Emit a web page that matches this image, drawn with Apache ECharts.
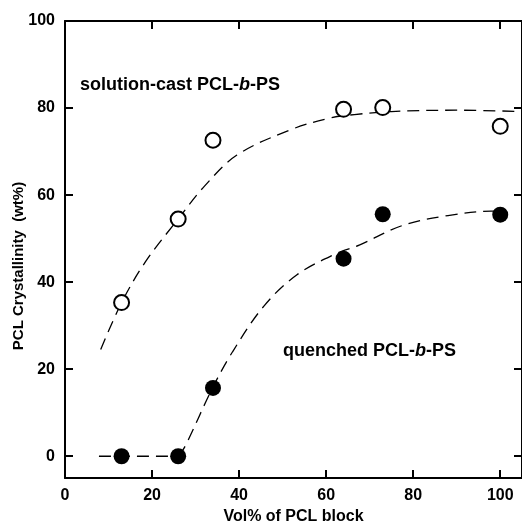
<!DOCTYPE html>
<html>
<head>
<meta charset="utf-8">
<script src="https://cdn.jsdelivr.net/npm/echarts@6/dist/echarts.min.js"></script>
<style>html,body{margin:0;padding:0;background:#fff}#c{width:522px;height:530px}</style>
</head>
<body>
<div id="c"></div>
<script>
// Tick labels
var xTicks = [0, 20, 40, 60, 80, 100];
var yTicks = [0, 20, 40, 60, 80, 100];
// Measured points: [Vol% of PCL block, PCL crystallinity wt%]
var solutionCastX = [13, 26, 34, 64, 73, 100];
var solutionCastY = [35.3, 54.5, 72.6, 79.7, 80.1, 75.8];
var quenchedX = [13, 26, 34, 64, 73, 100];
var quenchedY = [0, 0, 15.7, 45.4, 55.6, 55.5];
// Dashed guide curves
var solutionCurveX = [8.2, 13, 18.5, 26, 32, 39.5, 51.8, 60.8, 66.5, 75, 90, 105];
var solutionCurveY = [24.5, 35.3, 44.7, 54.5, 62, 69.2, 75, 77.7, 78.5, 79.2, 79.5, 79.2];
var quenchedFlatX = [7.8, 26];
var quenchedFlatY = [0, 0];
var quenchedRiseX = [26, 27.6, 33.8, 38.5, 45.7, 53.3, 62.4, 67.6, 77.5, 88, 97.9, 100];
var quenchedRiseY = [0, 2.3, 15.5, 24, 34.5, 41.7, 46.6, 48.5, 53, 55.3, 56.3, 56.3];

function pairs(xs, ys) { return xs.map(function (x, i) { return [x, ys[i]]; }); }

var FONT = '"Liberation Sans", Arial, Helvetica, sans-serif';
var chart = echarts.init(document.getElementById('c'), null, {renderer: 'canvas'});
var axisCommon = {
  type: 'value',
  splitLine: {show: false},
  axisLine: {show: true, onZero: false, lineStyle: {color: '#000', width: 2}},
  axisTick: {show: true, inside: true, length: 8, lineStyle: {color: '#000', width: 2}}
};
var dash = {color: '#000', width: 1.3, type: [12, 7]};
chart.setOption({
  animation: false,
  backgroundColor: '#fff',
  grid: {left: 65, top: 21, bottom: 47, right: -6, containLabel: false},
  xAxis: [
    Object.assign({}, axisCommon, {
      position: 'bottom', min: 0, max: 105,
      axisTick: Object.assign({}, axisCommon.axisTick, {customValues: xTicks}),
      axisLabel: {customValues: xTicks, margin: 10, color: '#000', fontFamily: FONT, fontWeight: 'bold', fontSize: 16},
      name: 'Vol% of PCL block', nameLocation: 'middle', nameGap: 31,
      nameTextStyle: {color: '#000', fontFamily: FONT, fontWeight: 'bold', fontSize: 16}
    }),
    Object.assign({}, axisCommon, {
      position: 'top', min: 0, max: 105,
      axisTick: Object.assign({}, axisCommon.axisTick, {customValues: xTicks}),
      axisLabel: {show: false}
    })
  ],
  yAxis: [
    Object.assign({}, axisCommon, {
      position: 'left', min: -5, max: 100,
      axisTick: Object.assign({}, axisCommon.axisTick, {customValues: yTicks}),
      axisLabel: {customValues: yTicks, margin: 10, color: '#000', fontFamily: FONT, fontWeight: 'bold', fontSize: 16}
    }),
    Object.assign({}, axisCommon, {
      position: 'right', min: -5, max: 100,
      axisTick: Object.assign({}, axisCommon.axisTick, {customValues: yTicks}),
      axisLabel: {show: false}
    })
  ],
  graphic: [
    {type: 'text', x: 19, y: 266, rotation: Math.PI / 2,
     style: {text: 'PCL Crystallinity  (wt%)', fill: '#000', font: 'bold 15px ' + FONT, textAlign: 'center', textVerticalAlign: 'middle'}},
    {type: 'text', x: 80, y: 85,
     style: {text: '{n|solution-cast PCL-}{i|b}{n|-PS}', textVerticalAlign: 'middle', fill: '#000',
       rich: {n: {fontFamily: FONT, fontWeight: 'bold', fontSize: 18, fill: '#000'},
              i: {fontFamily: FONT, fontWeight: 'bold', fontStyle: 'italic', fontSize: 18, fill: '#000'}}}},
    {type: 'text', x: 283, y: 351,
     style: {text: '{n|quenched PCL-}{i|b}{n|-PS}', textVerticalAlign: 'middle', fill: '#000',
       rich: {n: {fontFamily: FONT, fontWeight: 'bold', fontSize: 18, fill: '#000'},
              i: {fontFamily: FONT, fontWeight: 'bold', fontStyle: 'italic', fontSize: 18, fill: '#000'}}}}
  ],
  series: [
    {type: 'line', data: pairs(solutionCurveX, solutionCurveY), smooth: 0.35,
     showSymbol: false, symbol: 'none', lineStyle: dash, z: 1},
    {type: 'line', data: pairs(quenchedFlatX, quenchedFlatY), smooth: false,
     showSymbol: false, symbol: 'none', lineStyle: dash, z: 1},
    {type: 'line', data: pairs(quenchedRiseX, quenchedRiseY), smooth: 0.35,
     showSymbol: false, symbol: 'none', lineStyle: dash, z: 1},
    {type: 'scatter', data: pairs(solutionCastX, solutionCastY), symbol: 'circle', symbolSize: 15,
     itemStyle: {color: '#fff', borderColor: '#000', borderWidth: 2, opacity: 1}, z: 3},
    {type: 'scatter', data: pairs(quenchedX, quenchedY), symbol: 'circle', symbolSize: 16,
     itemStyle: {color: '#000', opacity: 1}, z: 3}
  ]
});
</script>
</body>
</html>
